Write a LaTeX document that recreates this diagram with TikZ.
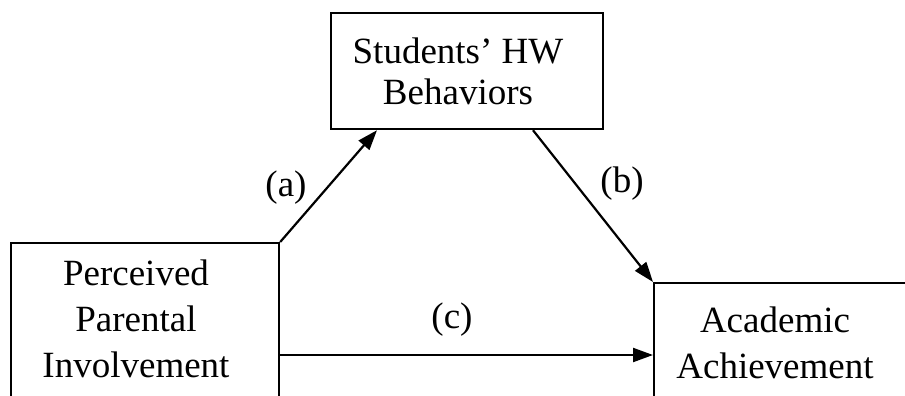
\documentclass[tikz,border=0pt]{standalone}
\usepackage{fontspec}
\setmainfont{Liberation Serif}
\usetikzlibrary{arrows.meta,calc}
\begin{document}
\begin{tikzpicture}[x=1pt,y=1pt,
  box/.style={draw,line width=2.2pt,rectangle,inner sep=0pt,anchor=north west},
  txt/.style={align=center,inner sep=0pt,font=\fontsize{37}{46}\selectfont},
  lbl/.style={inner sep=0pt,font=\fontsize{37}{44}\selectfont},
  link/.style={line width=2.2pt,-{Triangle[length=20pt,width=14pt]}}]
\useasboundingbox (0,0) rectangle (905,-396);
\fill[white] (0,0) rectangle (905,-396);
\clip (0,0) rectangle (905,-396);
% boxes (left and right ones run past the frame edges)
\node[box,minimum width=272pt,minimum height=116pt] (hw) at (330,-12) {};
\node[box,minimum width=268pt,minimum height=220pt] (ppi) at (10,-242) {};
\node[box,minimum width=320pt,minimum height=200pt] (ach) at (653,-282) {};
% box texts
\node[txt,font=\fontsize{37}{41}\selectfont] (hwt) at (458,-71) {Students’ HW\\Behaviors};
\node[txt] (ppit) at (136,-318.5) {Perceived\\Parental\\Involvement};
\node[txt] (acht) at (775,-342.5) {Academic\\Achievement};
% paths
\coordinate (aend) at ($(hw.south west)+(47,0)$);
\coordinate (bstart) at ($(hw.south west)+(203,0)$);
\coordinate (cstart) at ($(ppi.north east)+(0,-113)$);
\draw[link] (ppi.north east) -- (aend);
\draw[link] (bstart) -- (ach.north west);
\draw[link] (cstart) -- (cstart -| ach.west);
% path labels
\node[lbl] (la) at (286,-188) {(a)};
\node[lbl] (lb) at (622,-184) {(b)};
\node[lbl] (lc) at (452,-320) {(c)};
\end{tikzpicture}
\end{document}
